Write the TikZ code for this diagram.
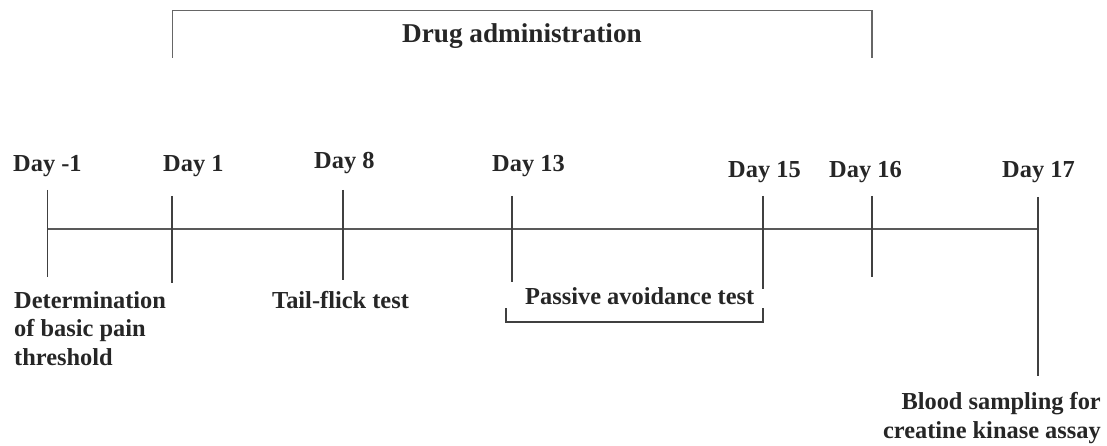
\documentclass[tikz,border=0pt]{standalone}
\usepackage{fontspec}
\setmainfont{Liberation Serif}
\begin{document}
\begin{tikzpicture}[x=1pt,y=-1pt,
  lbl/.style={font=\fontsize{24.4}{28.4}\selectfont\bfseries, text=black!85, inner sep=0pt},
  ttl/.style={font=\fontsize{27.2}{31}\selectfont\bfseries, text=black!85, inner sep=0pt},
  tl/.style={draw=black!75, line width=1.2pt},
  ml/.style={draw=black!65, line width=1.7pt},
  br/.style={draw=black!60, line width=1.6pt}]
\useasboundingbox (0,0) rectangle (1107,446);
% timeline
\coordinate (L) at (47.5,229);
\coordinate (R) at (1038,229);
\draw[ml] (L) -- (R);
% ticks
\coordinate (t1a) at (47.5,190); \coordinate (t1b) at (47.5,277);
\coordinate (t2a) at (172,196);  \coordinate (t2b) at (172,283);
\coordinate (t3a) at (343,190);  \coordinate (t3b) at (343,280);
\coordinate (t4a) at (512,196);  \coordinate (t4b) at (512,282);
\coordinate (t5a) at (763,196);  \coordinate (t5b) at (763,289);
\coordinate (t6a) at (872,196);  \coordinate (t6b) at (872,277);
\coordinate (t7a) at (1038,197); \coordinate (t7b) at (1038,376);
\foreach \i in {1,...,7} \draw[tl] (t\i a) -- (t\i b);
% top bracket
\coordinate (b1) at (172.5,58); \coordinate (b2) at (172.5,10.5);
\coordinate (b3) at (872,10.5); \coordinate (b4) at (872,58);
\draw[br] (b1) -- (b2) -- (b3) -- (b4);
\node[ttl, anchor=base west] (drug) at (402,43) {Drug administration};
% bottom bracket
\coordinate (p1) at (506,308); \coordinate (p2) at (506,322);
\coordinate (p3) at (763,322); \coordinate (p4) at (763,308);
\draw[tl] (p1) -- (p2) -- (p3) -- (p4);
% day labels
\node[lbl, anchor=base west] (dm1) at (13,172) {Day -1};
\node[lbl, anchor=base west] (d1) at (163,172) {Day 1};
\node[lbl, anchor=base west] (d8) at (314,169) {Day 8};
\node[lbl, anchor=base west] (d13) at (492,172) {Day 13};
\node[lbl, anchor=base west] (d15) at (728,178) {Day 15};
\node[lbl, anchor=base west] (d16) at (829,178) {Day 16};
\node[lbl, anchor=base west] (d17) at (1002,178) {Day 17};
% event labels (multi-line: base = last line)
\node[lbl, align=left, anchor=base west] (det) at (14,365) {Determination\\of basic pain\\threshold};
\node[lbl, anchor=base west] (tail) at (272,308) {Tail-flick test};
\node[lbl, anchor=base west] (pass) at (525,304) {Passive avoidance test};
\node[lbl, align=right, anchor=base east] (blood) at (1101,438) {Blood sampling for\\creatine kinase assay};
\end{tikzpicture}
\end{document}
